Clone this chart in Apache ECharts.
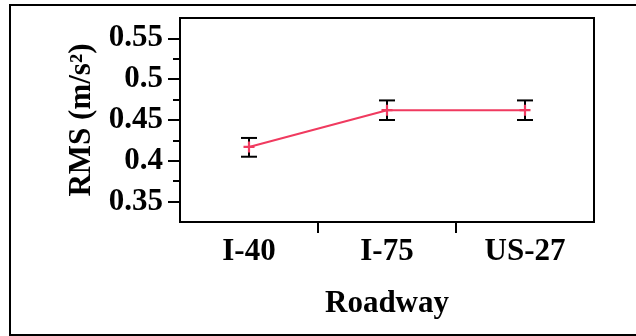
<!DOCTYPE html>
<html>
<head>
<meta charset="utf-8">
<script src="https://cdn.jsdelivr.net/npm/echarts@6/dist/echarts.min.js"></script>
<style>html,body{margin:0;padding:0;background:#fff}#c{width:636px;height:336px}</style>
</head>
<body>
<div id="c"></div>
<script>
var categories = ['I-40', 'I-75', 'US-27'];
var rmsMean = [0.417, 0.462, 0.462];
var rmsLow = [0.405, 0.450, 0.450];
var rmsHigh = [0.428, 0.474, 0.474];
var yMajorTicks = [0.35, 0.40, 0.45, 0.50, 0.55];
var yMinorTicks = [0.375, 0.425, 0.475, 0.525];
var xDividerTicks = [1, 2];

var chart = echarts.init(document.getElementById('c'), null, {renderer: 'canvas'});
var font = 'Liberation Serif';
var errData = categories.map(function (c, i) { return [i, rmsLow[i], rmsHigh[i]]; });

chart.setOption({
  animation: false,
  backgroundColor: '#fff',
  graphic: [{
    type: 'rect', z: 0, silent: true,
    shape: {x: 10, y: 5, width: 700, height: 330},
    style: {fill: 'none', stroke: '#000', lineWidth: 2}
  }],
  grid: {left: 180, right: 42, top: 18, bottom: 114, show: true, borderColor: '#000', borderWidth: 2, backgroundColor: 'transparent'},
  xAxis: [{
    type: 'category', data: categories, boundaryGap: true,
    axisLine: {show: true, lineStyle: {color: '#000', width: 2}},
    axisTick: {show: false},
    axisLabel: {color: '#000', fontFamily: font, fontWeight: 'bold', fontSize: 31, margin: 14},
    name: 'Roadway', nameLocation: 'middle', nameGap: 66,
    nameTextStyle: {color: '#000', fontFamily: font, fontWeight: 'bold', fontSize: 31}
  }, {
    type: 'value', min: 0, max: 3, position: 'bottom',
    axisLine: {show: false}, splitLine: {show: false}, axisLabel: {show: false},
    axisTick: {show: true, inside: false, length: 11, lineStyle: {color: '#000', width: 2}, customValues: xDividerTicks}
  }],
  yAxis: [{
    type: 'value', min: 0.325, max: 0.575,
    axisLine: {show: true, lineStyle: {color: '#000', width: 2}},
    splitLine: {show: false},
    axisTick: {show: true, length: 12, lineStyle: {color: '#000', width: 2}, customValues: yMajorTicks},
    axisLabel: {color: '#000', fontFamily: font, fontWeight: 'bold', fontSize: 31, margin: 17,
      customValues: yMajorTicks, formatter: function (v) { return String(+v.toFixed(2)); }},
    name: 'RMS (m/s²)', nameLocation: 'middle', nameGap: 83,
    nameTextStyle: {color: '#000', fontFamily: font, fontWeight: 'bold', fontSize: 31}
  }, {
    type: 'value', min: 0.325, max: 0.575, position: 'left',
    axisLine: {show: false}, splitLine: {show: false}, axisLabel: {show: false},
    axisTick: {show: true, length: 7, lineStyle: {color: '#000', width: 2}, customValues: yMinorTicks}
  }],
  series: [{
    type: 'custom', xAxisIndex: 0, yAxisIndex: 0, data: errData, z: 3,
    renderItem: function (params, api) {
      var x = api.coord([api.value(0), api.value(1)])[0];
      var lo = api.coord([api.value(0), api.value(1)])[1];
      var hi = api.coord([api.value(0), api.value(2)])[1];
      var w = 8;
      var st = {stroke: '#000', lineWidth: 2};
      return {type: 'group', children: [
        {type: 'line', shape: {x1: x, y1: lo, x2: x, y2: hi}, style: st},
        {type: 'line', shape: {x1: x - w, y1: lo, x2: x + w, y2: lo}, style: st},
        {type: 'line', shape: {x1: x - w, y1: hi, x2: x + w, y2: hi}, style: st}
      ]};
    }
  }, {
    type: 'line', xAxisIndex: 0, yAxisIndex: 0, data: rmsMean, z: 4,
    lineStyle: {color: '#f03a5f', width: 2},
    itemStyle: {color: '#f03a5f'},
    symbol: 'path://M4,0h2v4h4v2h-4v4h-2v-4h-4v-2h4z', symbolSize: 11, showSymbol: true
  }]
});
</script>
</body>
</html>
